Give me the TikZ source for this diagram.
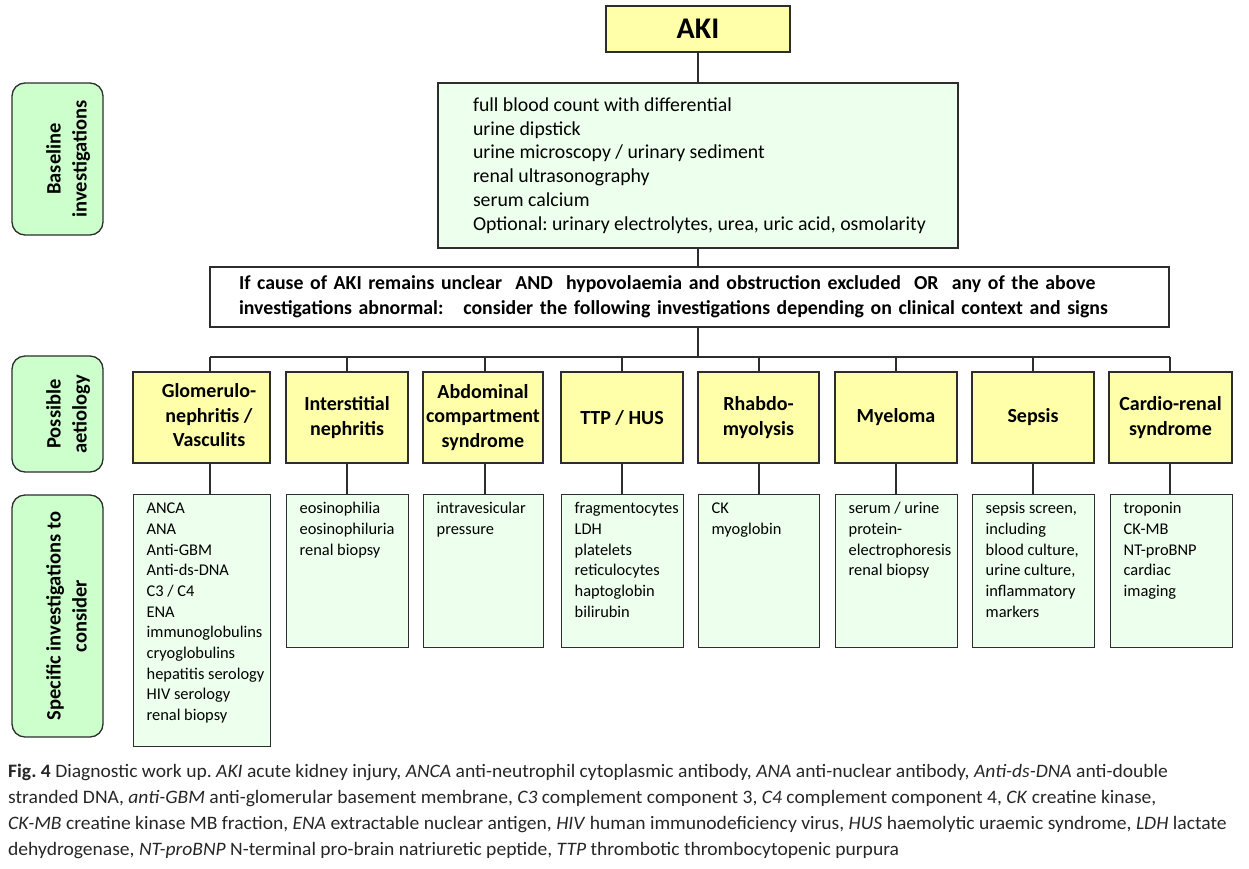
\documentclass[tikz,border=0pt]{standalone}
\usepackage{fontspec}
\setmainfont{Carlito}
\newfontfamily\capfont[FakeStretch=1.03]{Carlito}
\definecolor{yelc}{RGB}{255,255,170}
\definecolor{specc}{RGB}{237,255,237}
\definecolor{sidec}{RGB}{204,255,204}
\definecolor{linec}{RGB}{45,45,45}
\frenchspacing
% top-aligned list of lines inside a fixed-size box
\newcommand\listlines[3]{\begin{minipage}[t][#2][t]{#1}\raggedright\setlength\leftskip{13pt}\vspace*{4.5pt}\strut#3\end{minipage}}
% ragged lines indented inside a box of given text width
\newcommand\indentlines[3]{\begin{minipage}{#1}\raggedright\setlength\leftskip{#2}#3\end{minipage}}
\newcommand\sidetext[1]{\hspace*{22pt}\rotatebox{90}{\begin{tabular}{@{}c@{}}#1\end{tabular}}}
\begin{document}
\begin{tikzpicture}[x=1pt,y=-1pt,
  frame/.style={draw=linec, line width=1.3pt},
  conn/.style={draw=linec, line width=1.3pt},
  akibox/.style={frame, fill=yelc, minimum width=184pt, minimum height=46pt, inner sep=0pt,
    font=\fontsize{30}{36}\selectfont\bfseries},
  basebox/.style={frame, fill=specc, inner xsep=29pt, inner ysep=0pt,
    font=\fontsize{19.8}{23.8}\selectfont},
  condbox/.style={frame, fill=white, inner xsep=29pt, inner ysep=0pt, align=left,
    font=\fontsize{19.8}{25}\selectfont\bfseries},
  etio/.style={frame, fill=yelc, minimum height=91pt, inner sep=0pt, align=center,
    font=\fontsize{20}{24.5}\selectfont\bfseries},
  spec/.style={frame, fill=specc, anchor=north west, inner sep=0pt,
    font=\fontsize{16.4}{20.7}\selectfont},
  side/.style={frame, fill=sidec, rounded corners=13pt, minimum width=91pt, inner sep=0pt,
    font=\fontsize{20.5}{26}\selectfont\bfseries},
  caption/.style={anchor=north west, inner sep=0pt, align=left, text=black!85,
    font=\capfont\fontsize{19}{26}\selectfont}
]
\useasboundingbox (0,0) rectangle (1249,868);

% top of the chart
\node[akibox] (aki) at (698,29) {AKI};
\node[basebox, minimum width=520pt, minimum height=165pt] (base) at (698,165.5)
  {\indentlines{462pt}{6pt}{full blood count with differential\\
   urine dipstick\\
   urine microscopy / urinary sediment\\
   renal ultrasonography\\
   serum calcium\\
   Optional: urinary electrolytes, urea, uric acid, osmolarity}};
\node[condbox, minimum width=959pt, minimum height=60pt, text width=901pt] (cond) at (689.5,297)
  {If cause of AKI remains unclear\ \ AND\ \ hypovolaemia and obstruction excluded\ \ OR\ \ any of the above\\
   investigations abnormal:\ \ \ consider the following investigations depending on clinical context and signs};

% row labels
\node[side, minimum height=152pt] (lab1) at (57.5,159) {\sidetext{Baseline\\investigations}};
\node[side, minimum height=116pt] (lab2) at (57.5,414) {\sidetext{Possible\\aetiology}};
\node[side, minimum height=242pt] (lab3) at (57.5,616) {\sidetext{Specific investigations to\\consider}};

% possible aetiologies
\node[etio, minimum width=137pt] (e1) at (201.5,417.5)
  {\hspace*{15pt}\begin{tabular}{@{}c@{}}Glomerulo-\\nephritis /\\Vasculits\end{tabular}};
\node[etio, minimum width=122pt] (e2) at (347,417.5) {Interstitial\\nephritis};
\node[etio, minimum width=120pt] (e3) at (483,417.5) {Abdominal\\compartment\\syndrome};
\node[etio, minimum width=122pt] (e4) at (622,417.5) {TTP / HUS};
\node[etio, minimum width=121pt] (e5) at (758.5,417.5) {Rhabdo-\\myolysis};
\node[etio, minimum width=122pt] (e6) at (896,417.5) {Myeloma};
\node[etio, minimum width=122pt] (e7) at (1033,417.5) {Sepsis};
\node[etio, minimum width=123pt] (e8) at (1170.5,417.5) {Cardio-renal\\syndrome};

% specific investigations
\node[spec] (s1) at (133,494) {\listlines{137pt}{252pt}{ANCA\\ANA\\Anti-GBM\\Anti-ds-DNA\\C3 / C4\\ENA\\immunoglobulins\\cryoglobulins\\hepatitis serology\\HIV serology\\renal biopsy}};
\node[spec] (s2) at (286,494) {\listlines{122pt}{153pt}{eosinophilia\\eosinophiluria\\renal biopsy}};
\node[spec] (s3) at (423,494) {\listlines{120pt}{153pt}{intravesicular\\pressure}};
\node[spec] (s4) at (561,494) {\listlines{122pt}{153pt}{fragmentocytes\\LDH\\platelets\\reticulocytes\\haptoglobin\\bilirubin}};
\node[spec] (s5) at (698,494) {\listlines{121pt}{153pt}{CK\\myoglobin}};
\node[spec] (s6) at (835,494) {\listlines{122pt}{153pt}{serum / urine\\protein-\\electrophoresis\\renal biopsy}};
\node[spec] (s7) at (972,494) {\listlines{122pt}{153pt}{sepsis screen,\\including\\blood culture,\\urine culture,\\inflammatory\\markers}};
\node[spec] (s8) at (1110,494) {\listlines{122pt}{153pt}{troponin\\CK-MB\\NT-proBNP\\cardiac\\imaging}};

% connectors
\coordinate (hub) at (698,357);
\coordinate (d1) at (210,357);
\coordinate (d2) at (347,357);
\coordinate (d3) at (485,357);
\coordinate (d4) at (622,357);
\coordinate (d5) at (759,357);
\coordinate (d6) at (896,357);
\coordinate (d7) at (1033,357);
\coordinate (d8) at (1170,357);
\draw[conn] (aki.south) -- (base.north);
\draw[conn] (base.south) -- (base.south |- cond.north);
\draw[conn] (cond.south -| hub) -- (hub);
\draw[conn] (d1) -- (d8);
\foreach \i in {1,...,8}{
  \draw[conn] (d\i) -- (e\i.north -| d\i);
  \draw[conn] (e\i.south -| d\i) -- (s\i.north -| d\i);
}

% caption
\node[caption] (cap) at (8,764)
  {\textbf{Fig. 4} Diagnostic work up. \textit{AKI} acute kidney injury, \textit{ANCA} anti-neutrophil cytoplasmic antibody, \textit{ANA} anti-nuclear antibody, \textit{Anti-ds-DNA} anti-double\\
   stranded DNA, \textit{anti-GBM} anti-glomerular basement membrane, \textit{C3} complement component 3, \textit{C4} complement component 4, \textit{CK} creatine kinase,\\
   \textit{CK-MB} creatine kinase MB fraction, \textit{ENA} extractable nuclear antigen, \textit{HIV} human immunodeficiency virus, \textit{HUS} haemolytic uraemic syndrome, \textit{LDH} lactate\\
   dehydrogenase, \textit{NT-proBNP} N-terminal pro-brain natriuretic peptide, \textit{TTP} thrombotic thrombocytopenic purpura};
\end{tikzpicture}
\end{document}
